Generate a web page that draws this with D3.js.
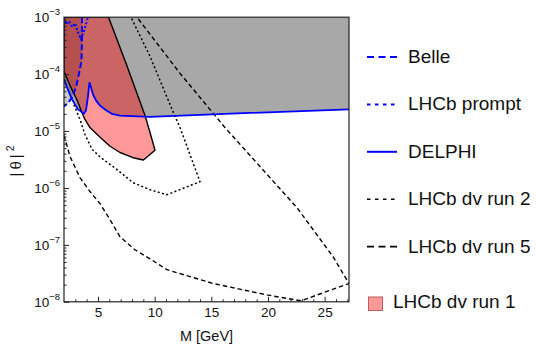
<!DOCTYPE html>
<html><head><meta charset="utf-8">
<script src="https://cdn.jsdelivr.net/npm/d3@7"></script>
<style>body{margin:0;background:#fff}svg{display:block;font-family:"Liberation Sans",Arial,sans-serif}</style>
</head><body><svg id="c" width="537" height="344"></svg>
<script>
// ---- data (M in GeV, |theta|^2) ----
const delphiM = [2.00,2.26,2.71,3.24,3.76,3.94,4.12,4.25,4.38,4.56,4.82,5.18,5.62,6.24,6.94,9.59,18.4,27.15];
const delphiTheta = [8.1e-5,5.9e-5,3.6e-5,2.4e-5,2.04e-5,2.3e-5,4.1e-5,7.2e-5,5.9e-5,4.4e-5,3.45e-5,2.8e-5,2.4e-5,2.0e-5,1.86e-5,1.78e-5,2.08e-5,2.4e-5];
const belleM = [3.59,3.59,3.54,3.32,3.06,2.71,2.35,2.00];
const belleTheta = [1e-3,4.1e-4,1.7e-4,1.0e-4,5.9e-5,3.9e-5,3.1e-5,2.7e-5];
const promptM = [2.0,2.18,2.44,2.71,2.97,3.24,3.50,3.76,3.94,4.12];
const promptTheta = [1e-3,7.5e-4,8.5e-4,6.7e-4,7.8e-4,5.4e-4,4.1e-4,5.7e-4,7.5e-4,1e-3];
const run1M = [2.0,5.93,7.47,9.15,9.59,10.03,9.01,8.09,6.94,6.06,5.18,4.29,3.85,3.59,3.15,2.53,2.0];
const run1Theta = [1e-3,1e-3,1.55e-4,1.88e-5,9.4e-6,4.6e-6,3.1e-6,3.4e-6,4.2e-6,5.4e-6,7.8e-6,1.15e-5,1.6e-5,2.1e-5,3.5e-5,6.3e-5,1.12e-4];
const run2M = [2.88,3.41,3.85,4.47,5.18,6.68,8.09,9.59,11.09,14.0,12.24,11.79,9.59,7.91];
const run2Theta = [2.9e-5,1.6e-5,8.7e-6,4.8e-6,3.5e-6,2.1e-6,1.24e-6,9.3e-7,7.6e-7,1.29e-6,1.15e-5,1.82e-5,2.05e-4,1e-3];
const run5M = [2.0,2.53,3.41,4.29,5.18,6.06,6.94,8.26,9.59,11.09,15.15,19.91,22.91,27.15,25.74,22.56,16.21,12.24,8.44];
const run5Theta = [8.4e-6,3.57e-6,1.52e-6,8.65e-7,5.3e-7,2.78e-7,1.39e-7,8.2e-8,5.7e-8,3.66e-8,2.1e-8,1.32e-8,1.04e-8,2.1e-8,6.2e-8,4.5e-7,1.15e-5,1.03e-4,1e-3];
const xTicks = [5,10,15,20,25];
const yTickExps = [-3,-4,-5,-6,-7,-8];
const legendLabels = ["Belle","LHCb prompt","DELPHI","LHCb dv run 2","LHCb dv run 5","LHCb dv run 1"];

// ---- layout ----
const L = 64, R = 349, T = 17.2, B = 301.8;
const x = d3.scaleLinear().domain([2, 27.15]).range([L, R]);
const y = d3.scaleLog().domain([1e-8, 1e-3]).range([B, T]);
const svg = d3.select("#c");
const pts = (m, t) => d3.zip(m, t);
const line = d3.line().x(d => x(d[0])).y(d => y(d[1]));
const blue = "#0000ff";

svg.append("defs").append("clipPath").attr("id","clip")
  .append("rect").attr("x",L).attr("y",T).attr("width",R-L).attr("height",B-T);
const g = svg.append("g").attr("clip-path","url(#clip)");

// regions
const delphiPts = pts(delphiM, delphiTheta);
g.append("path").attr("d", line([[2,1e-3], ...delphiPts, [27.15,1e-3]]) + "Z")
  .attr("fill","#000").attr("fill-opacity",0.34);
const bellePts = pts(belleM, belleTheta);
g.append("path").attr("d", line([...bellePts, [2,1e-3]]) + "Z")
  .attr("fill","#000").attr("fill-opacity",0.2);
g.append("path").attr("d", line(pts(run1M, run1Theta)) + "Z")
  .attr("fill","#ff0000").attr("fill-opacity",0.4)
  .attr("stroke","#000").attr("stroke-width",1.4).attr("stroke-linejoin","round");

// black contours
g.append("path").attr("d", line(pts(run2M, run2Theta))).attr("fill","none")
  .attr("stroke","#000").attr("stroke-width",1.5).attr("stroke-dasharray","2,2.4");
g.append("path").attr("d", line(pts(run5M, run5Theta))).attr("fill","none")
  .attr("stroke","#000").attr("stroke-width",1.4).attr("stroke-dasharray","4.5,3");

// blue curves
g.append("path").attr("d", line(bellePts)).attr("fill","none")
  .attr("stroke",blue).attr("stroke-width",2).attr("stroke-dasharray","6,3");
g.append("path").attr("d", line(pts(promptM, promptTheta))).attr("fill","none")
  .attr("stroke",blue).attr("stroke-width",2).attr("stroke-dasharray","2,2");
g.append("path").attr("d", line(delphiPts)).attr("fill","none")
  .attr("stroke",blue).attr("stroke-width",1.8);

// frame
svg.append("rect").attr("x",L).attr("y",T).attr("width",R-L).attr("height",B-T)
  .attr("fill","none").attr("stroke","#222").attr("stroke-width",1.2);

// x axis
const minorX = d3.range(3, 28).filter(v => v % 5 !== 0);
const xMinor = svg.append("g").attr("transform",`translate(0,${B})`)
  .call(d3.axisBottom(x).tickValues(minorX).tickSizeInner(-2.5).tickSizeOuter(0).tickFormat(""));
const xMajor = svg.append("g").attr("transform",`translate(0,${B})`)
  .call(d3.axisBottom(x).tickValues(xTicks).tickSizeInner(-5).tickSizeOuter(0).tickPadding(6));
[xMinor, xMajor].forEach(a => { a.select(".domain").remove(); a.selectAll("line").attr("stroke","#222"); });
xMajor.selectAll("text").attr("font-size","13.5px").attr("fill","#111")
  .attr("font-family","'Liberation Sans',Arial,sans-serif");

// y axis
const minorY = y.ticks().filter(v => Math.abs(Math.log10(v) - Math.round(Math.log10(v))) > 1e-6);
const yMinor = svg.append("g").attr("transform",`translate(${L},0)`)
  .call(d3.axisLeft(y).tickValues(minorY).tickSizeInner(-2.5).tickSizeOuter(0).tickFormat(""));
const yMajorVals = yTickExps.map(e => Math.pow(10, e));
const yMajor = svg.append("g").attr("transform",`translate(${L},0)`)
  .call(d3.axisLeft(y).tickValues(yMajorVals).tickSizeInner(-5).tickSizeOuter(0).tickFormat(""));
[yMinor, yMajor].forEach(a => { a.select(".domain").remove(); a.selectAll("line").attr("stroke","#222"); });
yTickExps.forEach(e => {
  const t = svg.append("text").attr("x", 60).attr("y", y(Math.pow(10,e)) + 4.7)
    .attr("text-anchor","end").attr("font-size","13.5px").attr("fill","#111");
  t.append("tspan").text("10");
  t.append("tspan").attr("dy",-6.5).attr("font-size","9.5px").text("\u2212" + Math.abs(e));
});

// axis titles
svg.append("text").attr("x",(L+R)/2).attr("y",340.5).attr("text-anchor","middle")
  .attr("font-size","14.5px").attr("fill","#111").text("M [GeV]");
const yt = svg.append("text").attr("transform","translate(21,161) rotate(-90)")
  .attr("text-anchor","middle").attr("font-size","15px").attr("fill","#111");
yt.append("tspan").text("|\u2009\u03B8\u2009|");
yt.append("tspan").attr("dy",-7).attr("dx",3).attr("font-size","10.5px").text("2");

// legend
const legStyles = [
  {stroke: blue, dash: "7,4.5", w: 2},
  {stroke: blue, dash: "3.5,4.5", w: 2},
  {stroke: blue, dash: null, w: 2},
  {stroke: "#000", dash: "3.5,4.5", w: 1.6},
  {stroke: "#000", dash: "7,4.5", w: 1.6}
];
legendLabels.forEach((lab, i) => {
  if (i < 5) {
    const ly = 57 + i * 47.4;
    const s = legStyles[i];
    const l = svg.append("line").attr("x1",367).attr("x2",397).attr("y1",ly).attr("y2",ly)
      .attr("stroke", s.stroke).attr("stroke-width", s.w);
    if (s.dash) l.attr("stroke-dasharray", s.dash);
    svg.append("text").attr("x",408).attr("y",ly + 6).attr("font-size","19px").attr("fill","#111").text(lab);
  } else {
    svg.append("rect").attr("x",368.5).attr("y",297).attr("width",14).attr("height",13.5)
      .attr("fill","#ff0000").attr("fill-opacity",0.4).attr("stroke","#b86060").attr("stroke-width",1);
    svg.append("text").attr("x",393).attr("y",307.5).attr("font-size","19px").attr("fill","#111").text(lab);
  }
});
</script></body></html>
